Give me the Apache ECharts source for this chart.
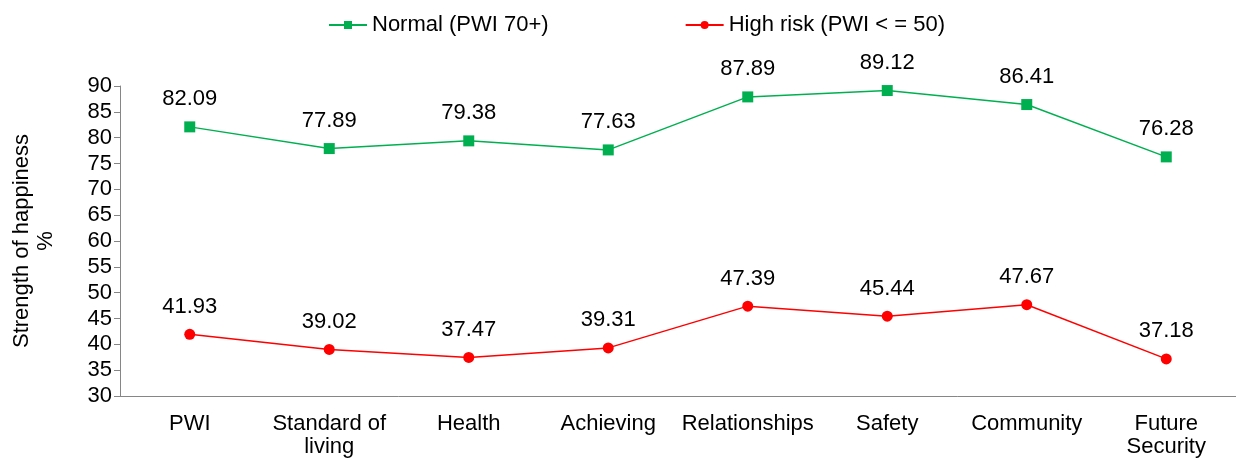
<!DOCTYPE html>
<html>
<head>
<meta charset="utf-8">
<script src="https://cdn.jsdelivr.net/npm/echarts@6/dist/echarts.min.js"></script>
<style>
  html, body { margin: 0; padding: 0; background: #fff; }
  #chart { width: 1236px; height: 458px; }
</style>
</head>
<body>
<div id="chart"></div>
<script>
// categories and values
const categories = [
  "PWI", "Standard of\nliving", "Health", "Achieving",
  "Relationships", "Safety", "Community", "Future\nSecurity"
];
const normalValues = [82.09, 77.89, 79.38, 77.63, 87.89, 89.12, 86.41, 76.28];
const highRiskValues = [41.93, 39.02, 37.47, 39.31, 47.39, 45.44, 47.67, 37.18];

const font = "'Liberation Sans', Arial, sans-serif";

var chart = echarts.init(document.getElementById("chart"));
var option = {
  backgroundColor: "#fff",
  animation: false,
  textStyle: { fontFamily: font },
  legend: {
    top: 9,
    left: 323,
    itemWidth: 38,
    itemHeight: 10,
    itemGap: 136,
    textStyle: { fontSize: 22, color: "#000", fontFamily: font },
    data: ["Normal (PWI 70+)", "High risk (PWI < = 50)"]
  },
  grid: { left: 120, right: -10, top: 86, bottom: 62 },
  xAxis: {
    type: "category",
    data: categories,
    boundaryGap: true,
    axisLine: { lineStyle: { color: "#868686", width: 1 } },
    axisTick: { length: 6, lineStyle: { color: "#868686" } },
    axisLabel: {
      color: "#000",
      fontSize: 22,
      fontFamily: font,
      margin: 16,
      lineHeight: 23,
      interval: 0
    }
  },
  yAxis: {
    type: "value",
    min: 30,
    max: 90,
    interval: 5,
    name: "Strength of happiness\n%",
    nameLocation: "middle",
    nameRotate: 90,
    nameGap: 62,
    nameTextStyle: { fontSize: 22, color: "#000", fontFamily: font, lineHeight: 24 },
    splitLine: { show: false },
    axisLine: { show: true, lineStyle: { color: "#868686", width: 1 } },
    axisTick: { show: true, length: 6, lineStyle: { color: "#868686" } },
    axisLabel: { color: "#000", fontSize: 22, fontFamily: font, margin: 8 }
  },
  series: [
    {
      name: "Normal (PWI 70+)",
      type: "line",
      data: normalValues,
      symbol: "rect",
      symbolSize: 11,
      itemStyle: { color: "#00B050" },
      lineStyle: { color: "#00B050", width: 1.5 },
      label: {
        show: true,
        position: "top",
        distance: 11,
        fontSize: 22,
        color: "#000",
        fontFamily: font,
        formatter: function (p) { return p.value.toFixed(2); }
      }
    },
    {
      name: "High risk (PWI < = 50)",
      type: "line",
      data: highRiskValues,
      symbol: "circle",
      symbolSize: 11,
      itemStyle: { color: "#FF0000" },
      lineStyle: { color: "#FF0000", width: 1.5 },
      label: {
        show: true,
        position: "top",
        distance: 11,
        fontSize: 22,
        color: "#000",
        fontFamily: font,
        formatter: function (p) { return p.value.toFixed(2); }
      }
    }
  ]
};
chart.setOption(option);
</script>
</body>
</html>
